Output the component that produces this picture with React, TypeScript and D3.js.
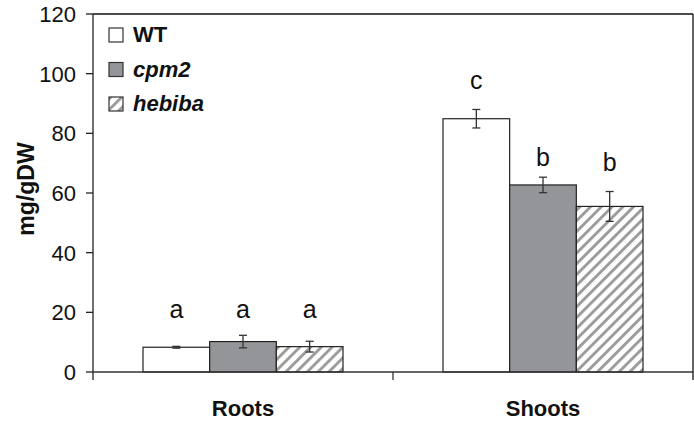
import React from "react";
import { scaleBand, scaleLinear } from "d3";

const categories = ["Roots", "Shoots"];
const series = ["WT", "cpm2", "hebiba"];
const values = [
  [8.3, 10.2, 8.5],
  [84.9, 62.7, 55.5],
];
const errors = [
  [0.3, 2.1, 1.8],
  [3.1, 2.6, 5.0],
];
const letters = [
  ["a", "a", "a"],
  ["c", "b", "b"],
];
// baseline of each significance letter, in data units
const letterY = [
  [18.2, 18.2, 18.2],
  [94.9, 69.0, 67.4],
];
const yTicks = [0, 20, 40, 60, 80, 100, 120];

const width = 694;
const height = 423;
const left = 93;
const right = 693;
const top = 14;
const bottom = 372;

const fills = ["#ffffff", "#939598", "url(#hatch)"];
const font = "'Liberation Sans', Arial, sans-serif";

export default function App() {
  const x = scaleBand().domain(categories).range([left, right]);
  const xInner = scaleBand().domain(series).range([50, 250]);
  const y = scaleLinear().domain([0, 120]).range([bottom, top]);

  return (
    <svg
      width={width}
      height={height}
      style={{ position: "absolute", left: 0, top: 0 }}
      fontFamily={font}
    >
      <defs>
        <pattern
          id="hatch"
          patternUnits="userSpaceOnUse"
          width={7.6}
          height={7.6}
          patternTransform="rotate(45)"
        >
          <rect width={7.6} height={7.6} fill="#fff" />
          <rect x={0} width={2.9} height={7.6} fill="#9c9c9c" />
        </pattern>
      </defs>

      {/* frame */}
      <line x1={left} x2={right} y1={top} y2={top} stroke="#111" strokeWidth={1.3} />
      <line x1={right} x2={right} y1={top} y2={bottom + 8} stroke="#111" strokeWidth={1.3} />
      <line x1={left} x2={left} y1={top} y2={bottom + 8} stroke="#222" strokeWidth={1.3} />

      {/* y ticks */}
      {yTicks.map((t) => (
        <g key={t}>
          <line x1={left - 7} x2={left} y1={y(t)} y2={y(t)} stroke="#222" strokeWidth={1.3} />
          <text
            x={left - 17}
            y={y(t)}
            dy="0.36em"
            textAnchor="end"
            fontSize={22}
            fill="#111"
          >
            {t}
          </text>
        </g>
      ))}

      {/* bars */}
      {categories.map((c, ci) => (
        <g key={c}>
          {series.map((s, si) => {
            const bx = (x(c) as number) + (xInner(s) as number);
            const bw = xInner.bandwidth();
            const v = values[ci][si];
            const e = errors[ci][si];
            const cx = bx + bw / 2;
            return (
              <g key={s}>
                <rect
                  x={bx}
                  y={y(v)}
                  width={bw}
                  height={y(0) - y(v)}
                  fill={fills[si]}
                  stroke="#222"
                  strokeWidth={1.2}
                />
                <line x1={cx} x2={cx} y1={y(v + e)} y2={y(v - e)} stroke="#333" strokeWidth={1.3} />
                <line x1={cx - 4} x2={cx + 4} y1={y(v + e)} y2={y(v + e)} stroke="#333" strokeWidth={1.3} />
                <line x1={cx - 4} x2={cx + 4} y1={y(v - e)} y2={y(v - e)} stroke="#333" strokeWidth={1.3} />
                <text x={cx} y={y(letterY[ci][si])} textAnchor="middle" fontSize={25} fill="#111">
                  {letters[ci][si]}
                </text>
              </g>
            );
          })}
        </g>
      ))}

      {/* x axis */}
      <line x1={left} x2={right} y1={bottom} y2={bottom} stroke="#333" strokeWidth={1.4} />
      <line x1={left + x.bandwidth()} x2={left + x.bandwidth()} y1={bottom} y2={bottom + 8} stroke="#333" strokeWidth={1.3} />
      {categories.map((c) => (
        <text
          key={c}
          x={(x(c) as number) + x.bandwidth() / 2}
          y={416}
          textAnchor="middle"
          fontSize={22}
          fontWeight="bold"
          fill="#111"
        >
          {c}
        </text>
      ))}

      {/* y label */}
      <text
        transform="translate(34,189) rotate(-90)"
        textAnchor="middle"
        fontSize={23}
        fontWeight="bold"
        fill="#111"
      >
        mg/gDW
      </text>

      {/* legend */}
      {series.map((s, i) => (
        <g key={s} transform={`translate(109,${28 + i * 34.5})`}>
          <rect x={0} y={0} width={14} height={14} fill={fills[i]} stroke="#333" strokeWidth={1.2} />
          <text
            x={24}
            y={14}
            fontSize={22}
            fontWeight="bold"
            fontStyle={i === 0 ? "normal" : "italic"}
            fill="#111"
          >
            {s}
          </text>
        </g>
      ))}
    </svg>
  );
}
